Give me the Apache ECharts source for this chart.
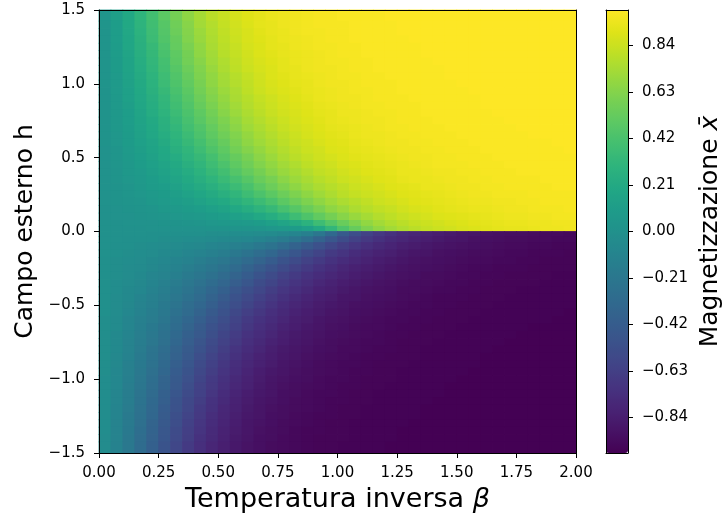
<!DOCTYPE html>
<html><head><meta charset="utf-8">
<script src="https://cdn.jsdelivr.net/npm/echarts@6/dist/echarts.min.js"></script>
<style>html,body{margin:0;padding:0;background:#fff;}#c{width:727px;height:523px;}</style>
</head><body><div id="c"></div>
<script>
// cell edges of the field: beta left->right, h top->bottom
const betaEdges = [0.00,0.05,0.10,0.15,0.20,0.25,0.30,0.35,0.40,0.45,0.50,0.55,0.60,0.65,0.70,0.75,0.80,0.85,0.90,0.95,1.00,1.05,1.10,1.15,1.20,1.25,1.30,1.35,1.40,1.45,1.50,1.55,1.60,1.65,1.70,1.75,1.80,1.85,1.90,1.95,2.00];
const hEdges = [1.5,1.425,1.375,1.325,1.275,1.225,1.175,1.125,1.075,1.025,0.975,0.925,0.875,0.825,0.775,0.725,0.675,0.625,0.575,0.525,0.475,0.425,0.375,0.325,0.275,0.225,0.175,0.125,0.075,0.035,0,
  -0.035,-0.075,-0.125,-0.175,-0.225,-0.275,-0.325,-0.375,-0.425,-0.475,-0.525,-0.575,-0.625,-0.675,-0.725,-0.775,-0.825,-0.875,-0.925,-0.975,-1.025,-1.075,-1.125,-1.175,-1.225,-1.275,-1.325,-1.375,-1.425,-1.5];
const betaTicks = [0,0.25,0.5,0.75,1.0,1.25,1.5,1.75,2.0];
const hTicks = [-1.5,-1.0,-0.5,0.0,0.5,1.0,1.5];
const colorbarTicks = [-0.84,-0.63,-0.42,-0.21,0.00,0.21,0.42,0.63,0.84];
// magnetization, one row per h band (top h=1.45 ... bottom h=-1.45), 40 beta columns each
const magnetization = [
[0.04,0.12,0.20,0.30,0.39,0.49,0.58,0.66,0.73,0.79,0.83,0.87,0.90,0.92,0.94,0.95,0.96,0.97,0.98,0.98,0.99,0.99,0.99,0.99,1.00,1.00,1.00,1.00,1.00,1.00,1.00,1.00,1.00,1.00,1.00,1.00,1.00,1.00,1.00,1.00],
[0.04,0.11,0.20,0.29,0.38,0.47,0.56,0.64,0.72,0.77,0.82,0.86,0.89,0.92,0.93,0.95,0.96,0.97,0.98,0.98,0.98,0.99,0.99,0.99,0.99,1.00,1.00,1.00,1.00,1.00,1.00,1.00,1.00,1.00,1.00,1.00,1.00,1.00,1.00,1.00],
[0.03,0.11,0.19,0.28,0.37,0.46,0.55,0.63,0.70,0.76,0.81,0.85,0.88,0.91,0.93,0.94,0.96,0.97,0.97,0.98,0.98,0.99,0.99,0.99,0.99,1.00,1.00,1.00,1.00,1.00,1.00,1.00,1.00,1.00,1.00,1.00,1.00,1.00,1.00,1.00],
[0.03,0.11,0.18,0.27,0.36,0.45,0.53,0.62,0.69,0.75,0.80,0.84,0.88,0.90,0.92,0.94,0.95,0.96,0.97,0.98,0.98,0.99,0.99,0.99,0.99,0.99,1.00,1.00,1.00,1.00,1.00,1.00,1.00,1.00,1.00,1.00,1.00,1.00,1.00,1.00],
[0.03,0.10,0.18,0.26,0.34,0.43,0.52,0.60,0.67,0.74,0.79,0.83,0.87,0.89,0.92,0.93,0.95,0.96,0.97,0.97,0.98,0.98,0.99,0.99,0.99,0.99,0.99,1.00,1.00,1.00,1.00,1.00,1.00,1.00,1.00,1.00,1.00,1.00,1.00,1.00],
[0.03,0.10,0.17,0.25,0.33,0.42,0.50,0.58,0.66,0.72,0.78,0.82,0.86,0.89,0.91,0.93,0.94,0.95,0.96,0.97,0.98,0.98,0.99,0.99,0.99,0.99,0.99,1.00,1.00,1.00,1.00,1.00,1.00,1.00,1.00,1.00,1.00,1.00,1.00,1.00],
[0.03,0.09,0.16,0.24,0.32,0.40,0.49,0.57,0.64,0.71,0.76,0.81,0.85,0.88,0.90,0.92,0.94,0.95,0.96,0.97,0.97,0.98,0.98,0.99,0.99,0.99,0.99,0.99,1.00,1.00,1.00,1.00,1.00,1.00,1.00,1.00,1.00,1.00,1.00,1.00],
[0.03,0.09,0.16,0.23,0.31,0.39,0.47,0.55,0.62,0.69,0.75,0.80,0.84,0.87,0.89,0.92,0.93,0.95,0.96,0.96,0.97,0.98,0.98,0.99,0.99,0.99,0.99,0.99,0.99,1.00,1.00,1.00,1.00,1.00,1.00,1.00,1.00,1.00,1.00,1.00],
[0.03,0.08,0.15,0.22,0.29,0.37,0.45,0.53,0.61,0.67,0.73,0.78,0.82,0.86,0.89,0.91,0.93,0.94,0.95,0.96,0.97,0.97,0.98,0.98,0.99,0.99,0.99,0.99,0.99,1.00,1.00,1.00,1.00,1.00,1.00,1.00,1.00,1.00,1.00,1.00],
[0.03,0.08,0.14,0.21,0.28,0.36,0.44,0.51,0.59,0.66,0.72,0.77,0.81,0.85,0.88,0.90,0.92,0.93,0.95,0.96,0.96,0.97,0.98,0.98,0.98,0.99,0.99,0.99,0.99,0.99,1.00,1.00,1.00,1.00,1.00,1.00,1.00,1.00,1.00,1.00],
[0.02,0.08,0.13,0.20,0.27,0.34,0.42,0.49,0.57,0.64,0.70,0.75,0.80,0.84,0.87,0.89,0.91,0.93,0.94,0.95,0.96,0.97,0.97,0.98,0.98,0.99,0.99,0.99,0.99,0.99,0.99,1.00,1.00,1.00,1.00,1.00,1.00,1.00,1.00,1.00],
[0.02,0.07,0.13,0.19,0.25,0.32,0.40,0.47,0.55,0.62,0.68,0.74,0.78,0.82,0.85,0.88,0.90,0.92,0.94,0.95,0.96,0.96,0.97,0.98,0.98,0.98,0.99,0.99,0.99,0.99,0.99,0.99,1.00,1.00,1.00,1.00,1.00,1.00,1.00,1.00],
[0.02,0.07,0.12,0.18,0.24,0.31,0.38,0.45,0.53,0.60,0.66,0.72,0.77,0.81,0.84,0.87,0.89,0.91,0.93,0.94,0.95,0.96,0.97,0.97,0.98,0.98,0.98,0.99,0.99,0.99,0.99,0.99,1.00,1.00,1.00,1.00,1.00,1.00,1.00,1.00],
[0.02,0.06,0.11,0.17,0.23,0.29,0.36,0.43,0.50,0.57,0.64,0.70,0.75,0.79,0.83,0.86,0.88,0.90,0.92,0.93,0.95,0.95,0.96,0.97,0.97,0.98,0.98,0.99,0.99,0.99,0.99,0.99,0.99,1.00,1.00,1.00,1.00,1.00,1.00,1.00],
[0.02,0.06,0.11,0.16,0.21,0.27,0.34,0.41,0.48,0.55,0.61,0.67,0.73,0.77,0.81,0.84,0.87,0.89,0.91,0.93,0.94,0.95,0.96,0.96,0.97,0.98,0.98,0.98,0.99,0.99,0.99,0.99,0.99,0.99,1.00,1.00,1.00,1.00,1.00,1.00],
[0.02,0.06,0.10,0.15,0.20,0.26,0.32,0.39,0.45,0.52,0.59,0.65,0.71,0.75,0.79,0.83,0.86,0.88,0.90,0.92,0.93,0.94,0.95,0.96,0.97,0.97,0.98,0.98,0.98,0.99,0.99,0.99,0.99,0.99,0.99,1.00,1.00,1.00,1.00,1.00],
[0.02,0.05,0.09,0.14,0.19,0.24,0.30,0.36,0.43,0.50,0.56,0.62,0.68,0.73,0.77,0.81,0.84,0.87,0.89,0.91,0.92,0.94,0.95,0.95,0.96,0.97,0.97,0.98,0.98,0.98,0.99,0.99,0.99,0.99,0.99,0.99,1.00,1.00,1.00,1.00],
[0.02,0.05,0.09,0.13,0.17,0.22,0.28,0.34,0.40,0.47,0.53,0.60,0.66,0.71,0.75,0.79,0.83,0.85,0.88,0.90,0.91,0.93,0.94,0.95,0.96,0.96,0.97,0.97,0.98,0.98,0.98,0.99,0.99,0.99,0.99,0.99,0.99,0.99,1.00,1.00],
[0.01,0.04,0.08,0.12,0.16,0.20,0.26,0.31,0.37,0.44,0.50,0.57,0.63,0.68,0.73,0.77,0.81,0.84,0.86,0.89,0.90,0.92,0.93,0.94,0.95,0.96,0.96,0.97,0.97,0.98,0.98,0.98,0.99,0.99,0.99,0.99,0.99,0.99,0.99,1.00],
[0.01,0.04,0.07,0.11,0.14,0.19,0.23,0.29,0.34,0.40,0.47,0.53,0.59,0.65,0.70,0.75,0.79,0.82,0.85,0.87,0.89,0.91,0.92,0.93,0.94,0.95,0.96,0.96,0.97,0.97,0.98,0.98,0.98,0.99,0.99,0.99,0.99,0.99,0.99,0.99],
[0.01,0.04,0.06,0.10,0.13,0.17,0.21,0.26,0.31,0.37,0.43,0.50,0.56,0.62,0.67,0.72,0.76,0.80,0.83,0.85,0.88,0.89,0.91,0.92,0.93,0.94,0.95,0.96,0.97,0.97,0.97,0.98,0.98,0.98,0.99,0.99,0.99,0.99,0.99,0.99],
[0.01,0.03,0.06,0.08,0.12,0.15,0.19,0.23,0.28,0.34,0.39,0.46,0.52,0.58,0.64,0.69,0.73,0.77,0.81,0.83,0.86,0.88,0.90,0.91,0.92,0.94,0.94,0.95,0.96,0.96,0.97,0.97,0.98,0.98,0.98,0.99,0.99,0.99,0.99,0.99],
[0.01,0.03,0.05,0.07,0.10,0.13,0.17,0.21,0.25,0.30,0.35,0.41,0.47,0.54,0.59,0.65,0.70,0.74,0.78,0.81,0.84,0.86,0.88,0.90,0.91,0.93,0.94,0.94,0.95,0.96,0.96,0.97,0.97,0.98,0.98,0.98,0.98,0.99,0.99,0.99],
[0.01,0.02,0.04,0.06,0.09,0.11,0.14,0.18,0.22,0.26,0.31,0.36,0.42,0.49,0.55,0.61,0.66,0.71,0.75,0.78,0.81,0.84,0.86,0.88,0.90,0.91,0.92,0.94,0.94,0.95,0.96,0.96,0.97,0.97,0.98,0.98,0.98,0.98,0.99,0.99],
[0.01,0.02,0.04,0.05,0.07,0.09,0.12,0.15,0.18,0.22,0.26,0.31,0.37,0.43,0.49,0.55,0.61,0.66,0.71,0.75,0.79,0.82,0.84,0.86,0.88,0.90,0.91,0.92,0.93,0.94,0.95,0.96,0.96,0.97,0.97,0.97,0.98,0.98,0.98,0.98],
[0.01,0.02,0.03,0.04,0.06,0.08,0.10,0.12,0.15,0.18,0.21,0.26,0.31,0.36,0.42,0.49,0.55,0.61,0.66,0.71,0.75,0.78,0.81,0.84,0.86,0.88,0.90,0.91,0.92,0.93,0.94,0.95,0.95,0.96,0.96,0.97,0.97,0.98,0.98,0.98],
[0.00,0.01,0.02,0.03,0.04,0.06,0.07,0.09,0.11,0.13,0.16,0.20,0.24,0.29,0.34,0.41,0.47,0.54,0.60,0.66,0.70,0.75,0.78,0.81,0.83,0.86,0.88,0.89,0.91,0.92,0.93,0.94,0.94,0.95,0.96,0.96,0.97,0.97,0.97,0.98],
[0.00,0.01,0.01,0.02,0.03,0.04,0.05,0.06,0.07,0.09,0.11,0.13,0.16,0.20,0.24,0.30,0.37,0.44,0.51,0.58,0.64,0.69,0.73,0.77,0.80,0.83,0.85,0.87,0.89,0.90,0.91,0.92,0.93,0.94,0.95,0.95,0.96,0.96,0.97,0.97],
[0.00,0.00,0.01,0.01,0.01,0.02,0.02,0.03,0.04,0.05,0.06,0.07,0.08,0.10,0.13,0.17,0.22,0.28,0.37,0.46,0.54,0.61,0.67,0.72,0.76,0.79,0.82,0.84,0.86,0.88,0.89,0.91,0.92,0.93,0.94,0.94,0.95,0.95,0.96,0.96],
[0.00,0.00,0.00,0.00,0.01,0.01,0.01,0.01,0.01,0.02,0.02,0.03,0.03,0.04,0.05,0.07,0.09,0.13,0.21,0.32,0.44,0.53,0.61,0.67,0.72,0.76,0.79,0.82,0.84,0.86,0.88,0.89,0.91,0.92,0.93,0.93,0.94,0.95,0.95,0.96],
[0.00,0.00,0.00,0.00,-0.01,-0.01,-0.01,-0.01,-0.01,-0.02,-0.02,-0.03,-0.03,-0.04,-0.05,-0.07,-0.09,-0.13,-0.21,-0.32,-0.44,-0.53,-0.61,-0.67,-0.72,-0.76,-0.79,-0.82,-0.84,-0.86,-0.88,-0.89,-0.91,-0.92,-0.93,-0.93,-0.94,-0.95,-0.95,-0.96],
[0.00,0.00,-0.01,-0.01,-0.01,-0.02,-0.02,-0.03,-0.04,-0.05,-0.06,-0.07,-0.08,-0.10,-0.13,-0.17,-0.22,-0.28,-0.37,-0.46,-0.54,-0.61,-0.67,-0.72,-0.76,-0.79,-0.82,-0.84,-0.86,-0.88,-0.89,-0.91,-0.92,-0.93,-0.94,-0.94,-0.95,-0.95,-0.96,-0.96],
[0.00,-0.01,-0.01,-0.02,-0.03,-0.04,-0.05,-0.06,-0.07,-0.09,-0.11,-0.13,-0.16,-0.20,-0.24,-0.30,-0.37,-0.44,-0.51,-0.58,-0.64,-0.69,-0.73,-0.77,-0.80,-0.83,-0.85,-0.87,-0.89,-0.90,-0.91,-0.92,-0.93,-0.94,-0.95,-0.95,-0.96,-0.96,-0.97,-0.97],
[0.00,-0.01,-0.02,-0.03,-0.04,-0.06,-0.07,-0.09,-0.11,-0.13,-0.16,-0.20,-0.24,-0.29,-0.34,-0.41,-0.47,-0.54,-0.60,-0.66,-0.70,-0.75,-0.78,-0.81,-0.83,-0.86,-0.88,-0.89,-0.91,-0.92,-0.93,-0.94,-0.94,-0.95,-0.96,-0.96,-0.97,-0.97,-0.97,-0.98],
[-0.01,-0.02,-0.03,-0.04,-0.06,-0.08,-0.10,-0.12,-0.15,-0.18,-0.21,-0.26,-0.31,-0.36,-0.42,-0.49,-0.55,-0.61,-0.66,-0.71,-0.75,-0.78,-0.81,-0.84,-0.86,-0.88,-0.90,-0.91,-0.92,-0.93,-0.94,-0.95,-0.95,-0.96,-0.96,-0.97,-0.97,-0.98,-0.98,-0.98],
[-0.01,-0.02,-0.04,-0.05,-0.07,-0.09,-0.12,-0.15,-0.18,-0.22,-0.26,-0.31,-0.37,-0.43,-0.49,-0.55,-0.61,-0.66,-0.71,-0.75,-0.79,-0.82,-0.84,-0.86,-0.88,-0.90,-0.91,-0.92,-0.93,-0.94,-0.95,-0.96,-0.96,-0.97,-0.97,-0.97,-0.98,-0.98,-0.98,-0.98],
[-0.01,-0.02,-0.04,-0.06,-0.09,-0.11,-0.14,-0.18,-0.22,-0.26,-0.31,-0.36,-0.42,-0.49,-0.55,-0.61,-0.66,-0.71,-0.75,-0.78,-0.81,-0.84,-0.86,-0.88,-0.90,-0.91,-0.92,-0.94,-0.94,-0.95,-0.96,-0.96,-0.97,-0.97,-0.98,-0.98,-0.98,-0.98,-0.99,-0.99],
[-0.01,-0.03,-0.05,-0.07,-0.10,-0.13,-0.17,-0.21,-0.25,-0.30,-0.35,-0.41,-0.47,-0.54,-0.59,-0.65,-0.70,-0.74,-0.78,-0.81,-0.84,-0.86,-0.88,-0.90,-0.91,-0.93,-0.94,-0.94,-0.95,-0.96,-0.96,-0.97,-0.97,-0.98,-0.98,-0.98,-0.98,-0.99,-0.99,-0.99],
[-0.01,-0.03,-0.06,-0.08,-0.12,-0.15,-0.19,-0.23,-0.28,-0.34,-0.39,-0.46,-0.52,-0.58,-0.64,-0.69,-0.73,-0.77,-0.81,-0.83,-0.86,-0.88,-0.90,-0.91,-0.92,-0.94,-0.94,-0.95,-0.96,-0.96,-0.97,-0.97,-0.98,-0.98,-0.98,-0.99,-0.99,-0.99,-0.99,-0.99],
[-0.01,-0.04,-0.06,-0.10,-0.13,-0.17,-0.21,-0.26,-0.31,-0.37,-0.43,-0.50,-0.56,-0.62,-0.67,-0.72,-0.76,-0.80,-0.83,-0.85,-0.88,-0.89,-0.91,-0.92,-0.93,-0.94,-0.95,-0.96,-0.97,-0.97,-0.97,-0.98,-0.98,-0.98,-0.99,-0.99,-0.99,-0.99,-0.99,-0.99],
[-0.01,-0.04,-0.07,-0.11,-0.14,-0.19,-0.23,-0.29,-0.34,-0.40,-0.47,-0.53,-0.59,-0.65,-0.70,-0.75,-0.79,-0.82,-0.85,-0.87,-0.89,-0.91,-0.92,-0.93,-0.94,-0.95,-0.96,-0.96,-0.97,-0.97,-0.98,-0.98,-0.98,-0.99,-0.99,-0.99,-0.99,-0.99,-0.99,-0.99],
[-0.01,-0.04,-0.08,-0.12,-0.16,-0.20,-0.26,-0.31,-0.37,-0.44,-0.50,-0.57,-0.63,-0.68,-0.73,-0.77,-0.81,-0.84,-0.86,-0.89,-0.90,-0.92,-0.93,-0.94,-0.95,-0.96,-0.96,-0.97,-0.97,-0.98,-0.98,-0.98,-0.99,-0.99,-0.99,-0.99,-0.99,-0.99,-0.99,-1.00],
[-0.02,-0.05,-0.09,-0.13,-0.17,-0.22,-0.28,-0.34,-0.40,-0.47,-0.53,-0.60,-0.66,-0.71,-0.75,-0.79,-0.83,-0.85,-0.88,-0.90,-0.91,-0.93,-0.94,-0.95,-0.96,-0.96,-0.97,-0.97,-0.98,-0.98,-0.98,-0.99,-0.99,-0.99,-0.99,-0.99,-0.99,-0.99,-1.00,-1.00],
[-0.02,-0.05,-0.09,-0.14,-0.19,-0.24,-0.30,-0.36,-0.43,-0.50,-0.56,-0.62,-0.68,-0.73,-0.77,-0.81,-0.84,-0.87,-0.89,-0.91,-0.92,-0.94,-0.95,-0.95,-0.96,-0.97,-0.97,-0.98,-0.98,-0.98,-0.99,-0.99,-0.99,-0.99,-0.99,-0.99,-1.00,-1.00,-1.00,-1.00],
[-0.02,-0.06,-0.10,-0.15,-0.20,-0.26,-0.32,-0.39,-0.45,-0.52,-0.59,-0.65,-0.71,-0.75,-0.79,-0.83,-0.86,-0.88,-0.90,-0.92,-0.93,-0.94,-0.95,-0.96,-0.97,-0.97,-0.98,-0.98,-0.98,-0.99,-0.99,-0.99,-0.99,-0.99,-0.99,-1.00,-1.00,-1.00,-1.00,-1.00],
[-0.02,-0.06,-0.11,-0.16,-0.21,-0.27,-0.34,-0.41,-0.48,-0.55,-0.61,-0.67,-0.73,-0.77,-0.81,-0.84,-0.87,-0.89,-0.91,-0.93,-0.94,-0.95,-0.96,-0.96,-0.97,-0.98,-0.98,-0.98,-0.99,-0.99,-0.99,-0.99,-0.99,-0.99,-1.00,-1.00,-1.00,-1.00,-1.00,-1.00],
[-0.02,-0.06,-0.11,-0.17,-0.23,-0.29,-0.36,-0.43,-0.50,-0.57,-0.64,-0.70,-0.75,-0.79,-0.83,-0.86,-0.88,-0.90,-0.92,-0.93,-0.95,-0.95,-0.96,-0.97,-0.97,-0.98,-0.98,-0.99,-0.99,-0.99,-0.99,-0.99,-0.99,-1.00,-1.00,-1.00,-1.00,-1.00,-1.00,-1.00],
[-0.02,-0.07,-0.12,-0.18,-0.24,-0.31,-0.38,-0.45,-0.53,-0.60,-0.66,-0.72,-0.77,-0.81,-0.84,-0.87,-0.89,-0.91,-0.93,-0.94,-0.95,-0.96,-0.97,-0.97,-0.98,-0.98,-0.98,-0.99,-0.99,-0.99,-0.99,-0.99,-1.00,-1.00,-1.00,-1.00,-1.00,-1.00,-1.00,-1.00],
[-0.02,-0.07,-0.13,-0.19,-0.25,-0.32,-0.40,-0.47,-0.55,-0.62,-0.68,-0.74,-0.78,-0.82,-0.85,-0.88,-0.90,-0.92,-0.94,-0.95,-0.96,-0.96,-0.97,-0.98,-0.98,-0.98,-0.99,-0.99,-0.99,-0.99,-0.99,-0.99,-1.00,-1.00,-1.00,-1.00,-1.00,-1.00,-1.00,-1.00],
[-0.02,-0.08,-0.13,-0.20,-0.27,-0.34,-0.42,-0.49,-0.57,-0.64,-0.70,-0.75,-0.80,-0.84,-0.87,-0.89,-0.91,-0.93,-0.94,-0.95,-0.96,-0.97,-0.97,-0.98,-0.98,-0.99,-0.99,-0.99,-0.99,-0.99,-0.99,-1.00,-1.00,-1.00,-1.00,-1.00,-1.00,-1.00,-1.00,-1.00],
[-0.03,-0.08,-0.14,-0.21,-0.28,-0.36,-0.44,-0.51,-0.59,-0.66,-0.72,-0.77,-0.81,-0.85,-0.88,-0.90,-0.92,-0.93,-0.95,-0.96,-0.96,-0.97,-0.98,-0.98,-0.98,-0.99,-0.99,-0.99,-0.99,-0.99,-1.00,-1.00,-1.00,-1.00,-1.00,-1.00,-1.00,-1.00,-1.00,-1.00],
[-0.03,-0.08,-0.15,-0.22,-0.29,-0.37,-0.45,-0.53,-0.61,-0.67,-0.73,-0.78,-0.82,-0.86,-0.89,-0.91,-0.93,-0.94,-0.95,-0.96,-0.97,-0.97,-0.98,-0.98,-0.99,-0.99,-0.99,-0.99,-0.99,-1.00,-1.00,-1.00,-1.00,-1.00,-1.00,-1.00,-1.00,-1.00,-1.00,-1.00],
[-0.03,-0.09,-0.16,-0.23,-0.31,-0.39,-0.47,-0.55,-0.62,-0.69,-0.75,-0.80,-0.84,-0.87,-0.89,-0.92,-0.93,-0.95,-0.96,-0.96,-0.97,-0.98,-0.98,-0.99,-0.99,-0.99,-0.99,-0.99,-0.99,-1.00,-1.00,-1.00,-1.00,-1.00,-1.00,-1.00,-1.00,-1.00,-1.00,-1.00],
[-0.03,-0.09,-0.16,-0.24,-0.32,-0.40,-0.49,-0.57,-0.64,-0.71,-0.76,-0.81,-0.85,-0.88,-0.90,-0.92,-0.94,-0.95,-0.96,-0.97,-0.97,-0.98,-0.98,-0.99,-0.99,-0.99,-0.99,-0.99,-1.00,-1.00,-1.00,-1.00,-1.00,-1.00,-1.00,-1.00,-1.00,-1.00,-1.00,-1.00],
[-0.03,-0.10,-0.17,-0.25,-0.33,-0.42,-0.50,-0.58,-0.66,-0.72,-0.78,-0.82,-0.86,-0.89,-0.91,-0.93,-0.94,-0.95,-0.96,-0.97,-0.98,-0.98,-0.99,-0.99,-0.99,-0.99,-0.99,-1.00,-1.00,-1.00,-1.00,-1.00,-1.00,-1.00,-1.00,-1.00,-1.00,-1.00,-1.00,-1.00],
[-0.03,-0.10,-0.18,-0.26,-0.34,-0.43,-0.52,-0.60,-0.67,-0.74,-0.79,-0.83,-0.87,-0.89,-0.92,-0.93,-0.95,-0.96,-0.97,-0.97,-0.98,-0.98,-0.99,-0.99,-0.99,-0.99,-0.99,-1.00,-1.00,-1.00,-1.00,-1.00,-1.00,-1.00,-1.00,-1.00,-1.00,-1.00,-1.00,-1.00],
[-0.03,-0.11,-0.18,-0.27,-0.36,-0.45,-0.53,-0.62,-0.69,-0.75,-0.80,-0.84,-0.88,-0.90,-0.92,-0.94,-0.95,-0.96,-0.97,-0.98,-0.98,-0.99,-0.99,-0.99,-0.99,-0.99,-1.00,-1.00,-1.00,-1.00,-1.00,-1.00,-1.00,-1.00,-1.00,-1.00,-1.00,-1.00,-1.00,-1.00],
[-0.03,-0.11,-0.19,-0.28,-0.37,-0.46,-0.55,-0.63,-0.70,-0.76,-0.81,-0.85,-0.88,-0.91,-0.93,-0.94,-0.96,-0.97,-0.97,-0.98,-0.98,-0.99,-0.99,-0.99,-0.99,-1.00,-1.00,-1.00,-1.00,-1.00,-1.00,-1.00,-1.00,-1.00,-1.00,-1.00,-1.00,-1.00,-1.00,-1.00],
[-0.04,-0.11,-0.20,-0.29,-0.38,-0.47,-0.56,-0.64,-0.72,-0.77,-0.82,-0.86,-0.89,-0.92,-0.93,-0.95,-0.96,-0.97,-0.98,-0.98,-0.98,-0.99,-0.99,-0.99,-0.99,-1.00,-1.00,-1.00,-1.00,-1.00,-1.00,-1.00,-1.00,-1.00,-1.00,-1.00,-1.00,-1.00,-1.00,-1.00],
[-0.04,-0.12,-0.20,-0.30,-0.39,-0.49,-0.58,-0.66,-0.73,-0.79,-0.83,-0.87,-0.90,-0.92,-0.94,-0.95,-0.96,-0.97,-0.98,-0.98,-0.99,-0.99,-0.99,-0.99,-1.00,-1.00,-1.00,-1.00,-1.00,-1.00,-1.00,-1.00,-1.00,-1.00,-1.00,-1.00,-1.00,-1.00,-1.00,-1.00]
];
const viridis = ['#440154','#471365','#482475','#463480','#414487','#3b528b','#355f8d','#2f6c8e','#2a788e','#25848e','#21918c','#1e9c89','#22a884','#2fb47c','#44bf70','#5ec962','#7ad151','#9bd93c','#bddf26','#dfe318','#fde725'];

const cells = [];
for (let i = 0; i < magnetization.length; i++) {
  for (let j = 0; j < magnetization[i].length; j++) {
    cells.push([betaEdges[j], betaEdges[j + 1], hEdges[i + 1], hEdges[i], magnetization[i][j]]);
  }
}
const FONT = 'DejaVu Sans';
const minus = s => s.replace('-', '\u2212');
const tickLabel = {fontFamily: FONT, fontSize: 15, color: '#000'};
const frameLine = {show: true, onZero: false, lineStyle: {color: '#000', width: 1}};
const noTick = {show: false};
const frameAxis = (type, gridIndex, position, min, max) => ({
  type: type, gridIndex: gridIndex, position: position, min: min, max: max, z: 10,
  axisLine: frameLine, axisTick: noTick, axisLabel: {show: false}, splitLine: {show: false}
});

const chart = echarts.init(document.getElementById('c'), null, {renderer: 'canvas'});
chart.setOption({
  animation: false,
  backgroundColor: '#fff',
  grid: [
    {left: 99, top: 10, width: 477, height: 443, show: false},
    {left: 606, top: 10, width: 22, height: 443, show: false}
  ],
  xAxis: [
    {type: 'value', gridIndex: 0, position: 'bottom', min: 0, max: 2, interval: 0.25, z: 10,
     axisLine: frameLine, splitLine: {show: false},
     axisTick: {show: true, length: 5, lineStyle: {color: '#000'}, customValues: betaTicks},
     axisLabel: Object.assign({margin: 13, customValues: betaTicks, formatter: v => v.toFixed(2)}, tickLabel),
     name: '{n|Temperatura inversa }{g|β}', nameLocation: 'middle', nameGap: 33,
     nameTextStyle: {fontFamily: FONT, fontSize: 27, color: '#000',
       rich: {n: {fontFamily: FONT, fontSize: 27, color: '#000'}, g: {fontFamily: FONT, fontSize: 27, fontStyle: 'italic', color: '#000'}}}},
    frameAxis('value', 0, 'top', 0, 2),
    frameAxis('value', 1, 'bottom', 0, 1),
    frameAxis('value', 1, 'top', 0, 1)
  ],
  yAxis: [
    {type: 'value', gridIndex: 0, position: 'left', min: -1.5, max: 1.5, interval: 0.5, z: 10,
     axisLine: frameLine, splitLine: {show: false},
     axisTick: {show: true, length: 5, lineStyle: {color: '#000'}, customValues: hTicks},
     axisLabel: Object.assign({margin: 14, customValues: hTicks, formatter: v => minus(v.toFixed(1))}, tickLabel),
     name: 'Campo esterno h', nameLocation: 'middle', nameRotate: 90, nameGap: 60,
     nameTextStyle: {fontFamily: FONT, fontSize: 25, color: '#000'}},
    frameAxis('value', 0, 'right', -1.5, 1.5),
    frameAxis('value', 1, 'left', -1, 1),
    {type: 'value', gridIndex: 1, position: 'right', min: -1, max: 1, z: 10,
     axisLine: frameLine, splitLine: {show: false},
     axisTick: {show: true, length: 5, lineStyle: {color: '#000'}, customValues: colorbarTicks},
     axisLabel: Object.assign({margin: 14, customValues: colorbarTicks, formatter: v => minus(v.toFixed(2))}, tickLabel),
     name: '{n|Magnetizzazione }{g|x̄}', nameLocation: 'middle', nameRotate: 90, nameGap: 70,
     nameTextStyle: {fontFamily: FONT, fontSize: 25, color: '#000',
       rich: {n: {fontFamily: FONT, fontSize: 25, color: '#000'}, g: {fontFamily: FONT, fontSize: 25, fontStyle: 'italic', color: '#000'}}}}
  ],
  visualMap: {
    type: 'continuous', min: -1, max: 1, dimension: 4, seriesIndex: 0,
    orient: 'vertical', left: 606, top: 10, itemWidth: 22, itemHeight: 443,
    padding: 0, calculable: false, hoverLink: false, text: null, showLabel: false,
    inRange: {color: viridis}
  },
  series: [{
    type: 'custom', xAxisIndex: 0, yAxisIndex: 0, z: 2, silent: true,
    encode: {x: [0, 1], y: [2, 3]},
    data: cells,
    renderItem: function (params, api) {
      const a = api.coord([api.value(0), api.value(3)]);
      const b = api.coord([api.value(1), api.value(2)]);
      const x = Math.min(a[0], b[0]), y = Math.min(a[1], b[1]);
      const w = Math.abs(b[0] - a[0]), h = Math.abs(b[1] - a[1]);
      return {type: 'rect', shape: {x: x - 0.4, y: y - 0.4, width: w + 0.8, height: h + 0.8},
              style: {fill: api.visual('color')}};
    }
  }]
});
</script></body></html>
